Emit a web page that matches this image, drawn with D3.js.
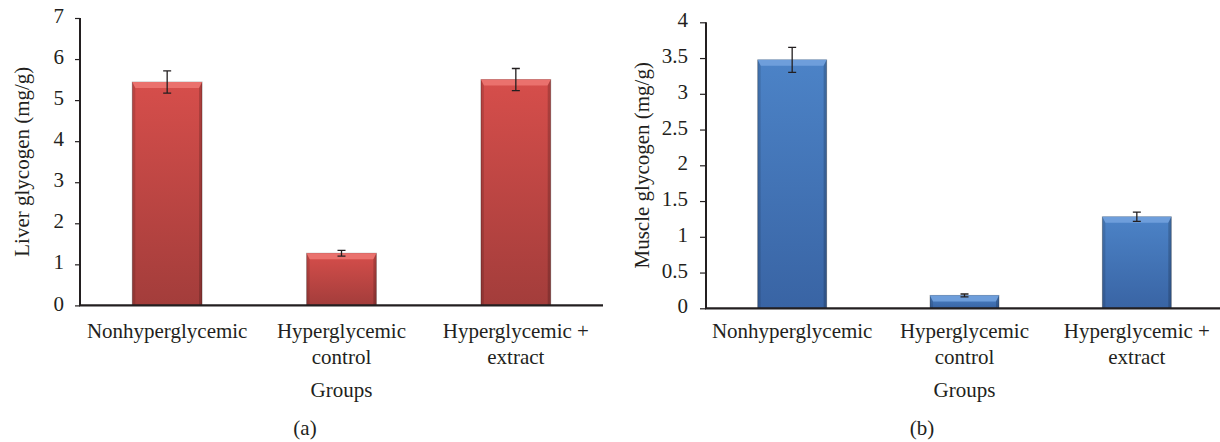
<!DOCTYPE html>
<html>
<head>
<meta charset="utf-8">
<script src="https://cdn.jsdelivr.net/npm/d3@7"></script>
<style>
  html, body { margin: 0; padding: 0; background: #fff; }
  svg { display: block; }
  text { font-family: "Liberation Serif", "DejaVu Serif", serif; fill: #231f20; }
</style>
</head>
<body>
<div id="chart"></div>
<script>
// Glycogen content per group, two panels.
const groups = ["Nonhyperglycemic", "Hyperglycemic control", "Hyperglycemic + extract"];
const groupLines = [["Nonhyperglycemic"], ["Hyperglycemic", "control"], ["Hyperglycemic +", "extract"]];

const liverMeans = [5.44, 1.27, 5.50];
const liverErrors = [0.27, 0.07, 0.27];
const liverTicks = [0, 1, 2, 3, 4, 5, 6, 7];

const muscleMeans = [3.475, 0.18, 1.28];
const muscleErrors = [0.175, 0.02, 0.065];
const muscleTicks = [0, 0.5, 1, 1.5, 2, 2.5, 3, 3.5, 4];

const W = 1220, H = 442;
const FONT = 21;

const svg = d3.select("#chart").append("svg")
  .attr("width", W).attr("height", H)
  .attr("viewBox", `0 0 ${W} ${H}`);

const defs = svg.append("defs");

function addGradient(id, top, bottom) {
  const g = defs.append("linearGradient").attr("id", id)
    .attr("x1", 0).attr("y1", 0).attr("x2", 0).attr("y2", 1);
  g.append("stop").attr("offset", "0%").attr("stop-color", top);
  g.append("stop").attr("offset", "100%").attr("stop-color", bottom);
}
addGradient("grad-red", "#d64e4b", "#a33d3b");
addGradient("grad-blue", "#4c83c7", "#3964a4");

// one panel = one bar chart with error bars
function drawPanel(p) {
  const g = svg.append("g");

  const x = d3.scaleBand().domain(groups)
    .range([p.left, p.right])
    .paddingInner(0.6).paddingOuter(0.3);
  const y = d3.scaleLinear().domain([0, p.ticks[p.ticks.length - 1]])
    .range([p.bottom, p.top]);

  // bars with a simple bevel look
  const bevelTop = 6, bevelSide = 3;
  const bars = g.append("g").selectAll("g.bar")
    .data(p.means.map((v, i) => ({ v, e: p.errors[i], k: groups[i] })))
    .join("g").attr("class", "bar");

  bars.append("rect")
    .attr("x", (d) => x(d.k))
    .attr("y", (d) => y(d.v))
    .attr("width", x.bandwidth())
    .attr("height", (d) => y(0) - y(d.v))
    .attr("fill", `url(#${p.grad})`)
    .attr("stroke", "rgba(0,0,0,0.28)")
    .attr("stroke-width", 1);

  bars.append("path")
    .attr("fill", p.light)
    .attr("d", (d) => {
      const x0 = x(d.k), x1 = x0 + x.bandwidth(), t = y(d.v);
      return `M${x0},${t}L${x1},${t}L${x1 - bevelSide},${t + bevelTop}L${x0 + bevelSide},${t + bevelTop}Z`;
    });
  bars.append("path")
    .attr("fill", "rgba(0,0,0,0.12)")
    .attr("d", (d) => {
      const x0 = x(d.k), t = y(d.v), b = y(0);
      return `M${x0},${t}L${x0 + bevelSide},${t + bevelTop}L${x0 + bevelSide},${b}L${x0},${b}Z`;
    });
  bars.append("path")
    .attr("fill", "rgba(0,0,0,0.18)")
    .attr("d", (d) => {
      const x1 = x(d.k) + x.bandwidth(), t = y(d.v), b = y(0);
      return `M${x1},${t}L${x1 - bevelSide},${t + bevelTop}L${x1 - bevelSide},${b}L${x1},${b}Z`;
    });

  // error bars
  const cap = 4;
  const err = g.append("g").attr("stroke", "#231f20").attr("stroke-width", 1.3).attr("fill", "none");
  err.selectAll("path")
    .data(p.means.map((v, i) => ({ v, e: p.errors[i], k: groups[i] })))
    .join("path")
    .attr("d", (d) => {
      const cx = x(d.k) + x.bandwidth() / 2;
      const hi = y(d.v + d.e), lo = y(d.v - d.e);
      return `M${cx - cap},${hi}H${cx + cap}M${cx},${hi}V${lo}M${cx - cap},${lo}H${cx + cap}`;
    });

  // y axis
  const yAxis = g.append("g").attr("transform", `translate(${p.left},0)`)
    .call(d3.axisLeft(y).tickValues(p.ticks).tickSize(p.tickLen).tickPadding(p.tickPad)
      .tickFormat(d3.format("")));
  yAxis.select(".domain").remove();
  yAxis.selectAll(".tick line").attr("stroke", "#231f20").attr("stroke-width", 1.2);
  yAxis.selectAll(".tick text")
    .attr("font-size", FONT).attr("font-family", null)
    .attr("fill", "#231f20").attr("dy", "0.22em");

  g.append("line")
    .attr("x1", p.left).attr("x2", p.left)
    .attr("y1", p.top).attr("y2", p.bottom)
    .attr("stroke", "#231f20").attr("stroke-width", 2);
  g.append("line")
    .attr("x1", p.left - 1).attr("x2", Math.min(p.right, W))
    .attr("y1", p.bottom).attr("y2", p.bottom)
    .attr("stroke", "#231f20").attr("stroke-width", 2.2);

  // category labels
  const lab = g.append("g").attr("font-size", FONT).attr("text-anchor", "middle");
  groupLines.forEach((lines, i) => {
    const cx = x(groups[i]) + x.bandwidth() / 2;
    lines.forEach((s, j) => {
      lab.append("text").attr("x", cx).attr("y", 338 + j * 26).text(s);
    });
  });

  g.append("text").attr("font-size", FONT).attr("text-anchor", "middle")
    .attr("x", x(groups[1]) + x.bandwidth() / 2).attr("y", 397).text("Groups");

  g.append("text").attr("font-size", FONT).attr("text-anchor", "middle")
    .attr("transform", `translate(${p.labelX},${(p.top + p.bottom) / 2}) rotate(-90)`)
    .text(p.yLabel);

  g.append("text").attr("font-size", FONT).attr("text-anchor", "middle")
    .attr("x", p.captionX).attr("y", 435).text(p.caption);
}

drawPanel({
  left: 80, right: 603, top: 18, bottom: 305.4,
  means: liverMeans, errors: liverErrors, ticks: liverTicks,
  tickLen: 5, tickPad: 11,
  grad: "grad-red", light: "#ea716d",
  yLabel: "Liver glycogen (mg/g)", labelX: 29,
  caption: "(a)", captionX: 305
});

drawPanel({
  left: 706, right: 1223, top: 22.3, bottom: 308.3,
  means: muscleMeans, errors: muscleErrors, ticks: muscleTicks,
  tickLen: 6, tickPad: 12,
  grad: "grad-blue", light: "#6e9edb",
  yLabel: "Muscle glycogen (mg/g)", labelX: 649,
  caption: "(b)", captionX: 922
});
</script>
</body>
</html>
